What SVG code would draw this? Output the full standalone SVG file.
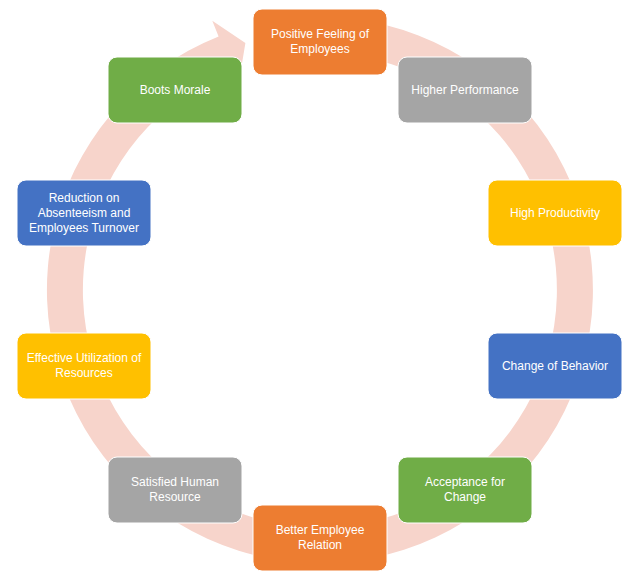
<svg xmlns="http://www.w3.org/2000/svg" width="640" height="582" viewBox="0 0 640 582">
<style>
.box{stroke:#ffffff;stroke-width:1;}
.orange{fill:#ED7D31;}
.gray{fill:#A5A5A5;}
.gold{fill:#FFC000;}
.blue{fill:#4472C4;}
.green{fill:#70AD47;}
text{font-family:"Liberation Sans",Arial,sans-serif;font-size:12px;fill:#ffffff;text-anchor:middle;}
</style>
<rect width="640" height="582" fill="#ffffff"/>
<g id="connectors">
<path d="M320,17 A273,273 0 1 1 218.6,36.5 L212.3,20.7 L245.4,43 L238.3,85.7 L232,69.9 A237,237 0 1 0 320,53 Z" fill="#F7D4CB"/>
</g>
<g id="n1"><rect class="box orange" x="253" y="9" width="134" height="66" rx="9"/><text x="320" y="38">Positive Feeling of</text><text x="320" y="53">Employees</text></g>
<g id="n2"><rect class="box gray" x="398" y="57" width="134" height="66" rx="9"/><text x="465" y="94">Higher Performance</text></g>
<g id="n3"><rect class="box gold" x="488" y="180" width="134" height="66" rx="9"/><text x="555" y="217">High Productivity</text></g>
<g id="n4"><rect class="box blue" x="488" y="333" width="134" height="66" rx="9"/><text x="555" y="370">Change of Behavior</text></g>
<g id="n5"><rect class="box green" x="398" y="457" width="134" height="66" rx="9"/><text x="465" y="486">Acceptance for</text><text x="465" y="501">Change</text></g>
<g id="n6"><rect class="box orange" x="253" y="505" width="134" height="66" rx="9"/><text x="320" y="534">Better Employee</text><text x="320" y="549">Relation</text></g>
<g id="n7"><rect class="box gray" x="108" y="457" width="134" height="66" rx="9"/><text x="175" y="486">Satisfied Human</text><text x="175" y="501">Resource</text></g>
<g id="n8"><rect class="box gold" x="17" y="333" width="134" height="66" rx="9"/><text x="84" y="362">Effective Utilization of</text><text x="84" y="377">Resources</text></g>
<g id="n9"><rect class="box blue" x="17" y="180" width="134" height="66" rx="9"/><text x="84" y="202">Reduction on</text><text x="84" y="217">Absenteeism and</text><text x="84" y="232">Employees Turnover</text></g>
<g id="n10"><rect class="box green" x="108" y="57" width="134" height="66" rx="9"/><text x="175" y="94">Boots Morale</text></g>
</svg>
